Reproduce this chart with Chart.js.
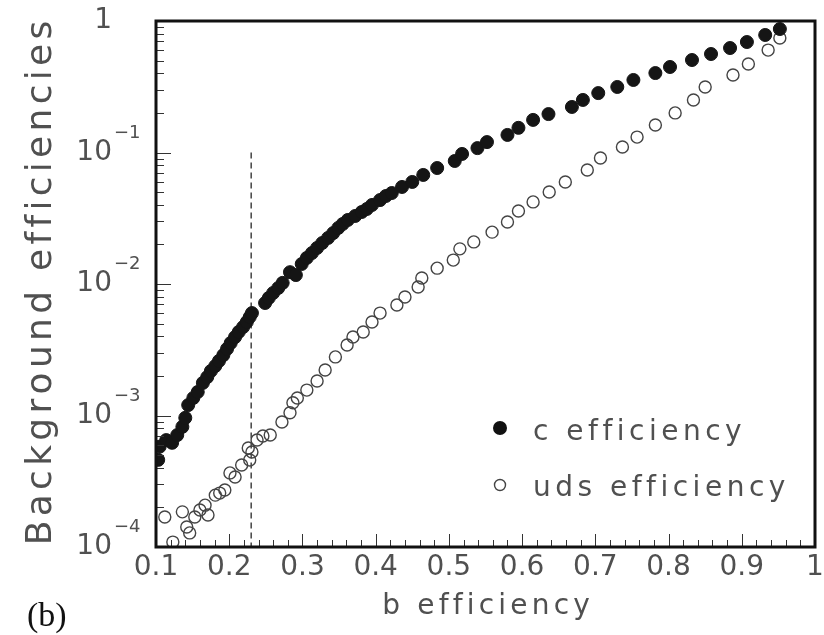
<!DOCTYPE html>
<html>
<head>
<meta charset="utf-8">
<title>Background efficiencies</title>
<script src="https://cdn.jsdelivr.net/npm/chart.js@4.4.0/dist/chart.umd.min.js"></script>
<style>
  html, body { margin: 0; padding: 0; background: #fff; }
  #grafico { display: block; }
</style>
</head>
<body>
<canvas id="grafico" width="824" height="635"></canvas>
<script>
// Datos (b efficiency vs background efficiency)
const cEffX = [0.103, 0.105, 0.114, 0.122, 0.129, 0.136, 0.140, 0.144, 0.151, 0.157, 0.164, 0.170, 0.175, 0.181, 0.186, 0.192, 0.197, 0.202, 0.208, 0.213, 0.219, 0.224, 0.228, 0.231, 0.249, 0.254, 0.260, 0.267, 0.273, 0.283, 0.291, 0.299, 0.306, 0.313, 0.320, 0.327, 0.335, 0.342, 0.349, 0.355, 0.362, 0.372, 0.381, 0.388, 0.395, 0.406, 0.414, 0.422, 0.436, 0.450, 0.465, 0.484, 0.508, 0.518, 0.539, 0.552, 0.580, 0.595, 0.615, 0.636, 0.668, 0.683, 0.704, 0.730, 0.752, 0.782, 0.802, 0.832, 0.858, 0.884, 0.907, 0.932, 0.952];
const cEffY = [4.6e-4, 5.8e-4, 6.5e-4, 6.2e-4, 7.1e-4, 8.2e-4, 9.6e-4, 1.2e-3, 1.36e-3, 1.51e-3, 1.77e-3, 1.96e-3, 2.18e-3, 2.38e-3, 2.6e-3, 2.88e-3, 3.21e-3, 3.56e-3, 3.95e-3, 4.32e-3, 4.71e-3, 5.14e-3, 5.61e-3, 6.01e-3, 7.17e-3, 7.83e-3, 8.55e-3, 9.33e-3, 1.02e-2, 1.23e-2, 1.17e-2, 1.42e-2, 1.58e-2, 1.72e-2, 1.88e-2, 2.05e-2, 2.24e-2, 2.44e-2, 2.67e-2, 2.86e-2, 3.07e-2, 3.29e-2, 3.53e-2, 3.72e-2, 3.99e-2, 4.35e-2, 4.67e-2, 4.92e-2, 5.47e-2, 5.97e-2, 6.75e-2, 7.62e-2, 8.62e-2, 9.75e-2, 0.108, 0.120, 0.136, 0.154, 0.177, 0.196, 0.222, 0.251, 0.283, 0.315, 0.356, 0.402, 0.447, 0.505, 0.561, 0.623, 0.692, 0.783, 0.869];

const udsEffX = [0.112, 0.123, 0.136, 0.142, 0.146, 0.153, 0.160, 0.167, 0.171, 0.181, 0.187, 0.194, 0.201, 0.208, 0.217, 0.226, 0.228, 0.231, 0.238, 0.246, 0.256, 0.272, 0.283, 0.287, 0.293, 0.306, 0.320, 0.331, 0.345, 0.361, 0.369, 0.383, 0.395, 0.406, 0.429, 0.440, 0.458, 0.463, 0.484, 0.506, 0.515, 0.534, 0.559, 0.580, 0.595, 0.615, 0.637, 0.659, 0.689, 0.707, 0.737, 0.757, 0.782, 0.809, 0.834, 0.850, 0.888, 0.909, 0.936, 0.952];
const udsEffY = [1.69e-4, 1.09e-4, 1.85e-4, 1.42e-4, 1.28e-4, 1.69e-4, 1.91e-4, 2.08e-4, 1.75e-4, 2.48e-4, 2.57e-4, 2.71e-4, 3.66e-4, 3.41e-4, 4.2e-4, 5.66e-4, 4.59e-4, 5.28e-4, 6.51e-4, 6.98e-4, 7.11e-4, 8.93e-4, 1.05e-3, 1.25e-3, 1.36e-3, 1.56e-3, 1.83e-3, 2.22e-3, 2.79e-3, 3.44e-3, 3.95e-3, 4.32e-3, 5.14e-3, 6.01e-3, 6.92e-3, 7.96e-3, 9.48e-3, 1.11e-2, 1.32e-2, 1.52e-2, 1.85e-2, 2.09e-2, 2.48e-2, 2.96e-2, 3.59e-2, 4.21e-2, 5.01e-2, 5.97e-2, 7.36e-2, 9.08e-2, 0.110, 0.131, 0.162, 0.200, 0.251, 0.315, 0.388, 0.471, 0.601, 0.743];

// línea de corte vertical (discontinua)
const corteX = [0.23, 0.23];
const corteY = [0.1, 1e-4];

const nombresSeries = ['c efficiency', 'uds efficiency'];
const xTicks = [0.1, 0.2, 0.3, 0.4, 0.5, 0.6, 0.7, 0.8, 0.9, 1];
const xTickLabels = ['0.1', '0.2', '0.3', '0.4', '0.5', '0.6', '0.7', '0.8', '0.9', '1'];
const yTicks = [1, 1e-1, 1e-2, 1e-3, 1e-4];
const yTickExp = ['', '\u22121', '\u22122', '\u22123', '\u22124'];
const tituloX = 'b efficiency';
const tituloY = 'Background efficiencies';
const etiquetaPanel = '(b)';

const fuente = '"DejaVu Sans", sans-serif';
const gris = '#505050';

function puntos(xs, ys) {
  return xs.map((x, i) => ({ x: x, y: ys[i] }));
}

// Texto con espaciado entre letras (la fuente original es más ancha)
function textoEspaciado(ctx, texto, x, y, esp, alin) {
  const anchos = Array.from(texto).map(ch => ctx.measureText(ch).width);
  const total = anchos.reduce((s, w) => s + w, 0) + esp * (anchos.length - 1);
  let px = x;
  if (alin === 'center') px = x - total / 2;
  else if (alin === 'right') px = x - total;
  ctx.save();
  ctx.textAlign = 'left';
  Array.from(texto).forEach((ch, i) => {
    ctx.fillText(ch, px, y);
    px += anchos[i] + esp;
  });
  ctx.restore();
}

// Ejes, marco, etiquetas y leyenda dibujados a mano
const ejesPlugin = {
  id: 'ejes',
  afterDatasetsDraw(chart) {
    const ctx = chart.ctx;
    const a = chart.chartArea;
    const sx = chart.scales.x;
    const sy = chart.scales.y;
    ctx.save();
    ctx.strokeStyle = '#333';
    ctx.lineWidth = 1;
    ctx.beginPath();
    // marcas eje x (hacia dentro)
    for (let i = 0; i <= 45; i++) {
      const px = Math.round(sx.getPixelForValue(0.1 + i * 0.02)) + 0.5;
      const largo = (i % 5 === 0) ? 13 : 7;
      ctx.moveTo(px, a.bottom);
      ctx.lineTo(px, a.bottom - largo);
    }
    // marcas eje y logarítmico
    for (let k = -4; k <= 0; k++) {
      for (let m = 1; m <= 9; m++) {
        const v = m * Math.pow(10, k);
        if (v > 1) break;
        const py = Math.round(sy.getPixelForValue(v)) + 0.5;
        const largo = (m === 1) ? 15 : 8;
        ctx.moveTo(a.left, py);
        ctx.lineTo(a.left + largo, py);
      }
    }
    ctx.stroke();

    // marco grueso
    ctx.strokeStyle = '#111';
    ctx.lineWidth = 3;
    ctx.strokeRect(a.left, a.top, a.right - a.left, a.bottom - a.top);

    // leyenda dentro del área
    ctx.fillStyle = '#111';
    ctx.beginPath();
    ctx.arc(500, 428, 7, 0, Math.PI * 2);
    ctx.fill();
    ctx.strokeStyle = '#444';
    ctx.lineWidth = 1.4;
    ctx.beginPath();
    ctx.arc(500, 485, 5.5, 0, Math.PI * 2);
    ctx.stroke();
    ctx.fillStyle = gris;
    ctx.font = '28px ' + fuente;
    ctx.textBaseline = 'alphabetic';
    textoEspaciado(ctx, nombresSeries[0], 533, 440, 4.5, 'left');
    textoEspaciado(ctx, nombresSeries[1], 533, 496, 4.5, 'left');
    ctx.restore();
  },
  afterDraw(chart) {
    const ctx = chart.ctx;
    const a = chart.chartArea;
    const sx = chart.scales.x;
    const sy = chart.scales.y;
    ctx.save();
    ctx.fillStyle = gris;

    // etiquetas eje x
    ctx.font = '28px ' + fuente;
    ctx.textAlign = 'center';
    ctx.textBaseline = 'middle';
    xTicks.forEach((v, i) => {
      ctx.fillText(xTickLabels[i], sx.getPixelForValue(v), a.bottom + 21);
    });

    // etiquetas eje y (10 con exponente)
    yTicks.forEach((v, i) => {
      const py = sy.getPixelForValue(v);
      ctx.textAlign = 'right';
      ctx.textBaseline = 'middle';
      ctx.font = '28px ' + fuente;
      if (yTickExp[i] === '') {
        ctx.fillText('1', 112, py);
      } else {
        ctx.fillText('10', 112, py);
        ctx.textAlign = 'left';
        ctx.textBaseline = 'alphabetic';
        ctx.font = '18px ' + fuente;
        ctx.fillText(yTickExp[i], 114, py - 15);
      }
    });

    // títulos de ejes
    ctx.font = '28px ' + fuente;
    ctx.textBaseline = 'middle';
    textoEspaciado(ctx, tituloX, 486, 607, 4.2, 'center');

    ctx.save();
    ctx.translate(42, 283);
    ctx.rotate(-Math.PI / 2);
    ctx.font = '36px ' + fuente;
    textoEspaciado(ctx, tituloY, 0, 0, 4.3, 'center');
    ctx.restore();

    // etiqueta del panel
    ctx.fillStyle = '#111';
    ctx.font = '34px "Liberation Serif", "DejaVu Serif", serif';
    ctx.textAlign = 'left';
    ctx.textBaseline = 'alphabetic';
    ctx.fillText(etiquetaPanel, 27, 626);
    ctx.restore();
  }
};

const ctx = document.getElementById('grafico').getContext('2d');
window.chartEficiencias = new Chart(ctx, {
  type: 'scatter',
  data: {
    datasets: [
      {
        label: nombresSeries[0],
        data: puntos(cEffX, cEffY),
        pointStyle: 'circle',
        pointRadius: 6.5,
        pointHoverRadius: 6.5,
        backgroundColor: '#151515',
        borderColor: '#151515',
        borderWidth: 1
      },
      {
        label: nombresSeries[1],
        data: puntos(udsEffX, udsEffY),
        pointStyle: 'circle',
        pointRadius: 6,
        pointHoverRadius: 6,
        backgroundColor: 'rgba(0,0,0,0)',
        borderColor: '#444',
        borderWidth: 1.4
      },
      {
        label: 'corte',
        data: puntos(corteX, corteY),
        showLine: true,
        pointRadius: 0,
        borderColor: '#444',
        borderWidth: 1.5,
        borderDash: [6, 4]
      }
    ]
  },
  options: {
    responsive: false,
    devicePixelRatio: 1,
    animation: false,
    events: [],
    layout: { padding: { left: 156, top: 21, right: 9, bottom: 88 } },
    plugins: {
      legend: { display: false },
      tooltip: { enabled: false }
    },
    scales: {
      x: { type: 'linear', min: 0.1, max: 1, display: false },
      y: { type: 'logarithmic', min: 1e-4, max: 1, display: false }
    }
  },
  plugins: [ejesPlugin]
});
</script>
</body>
</html>
